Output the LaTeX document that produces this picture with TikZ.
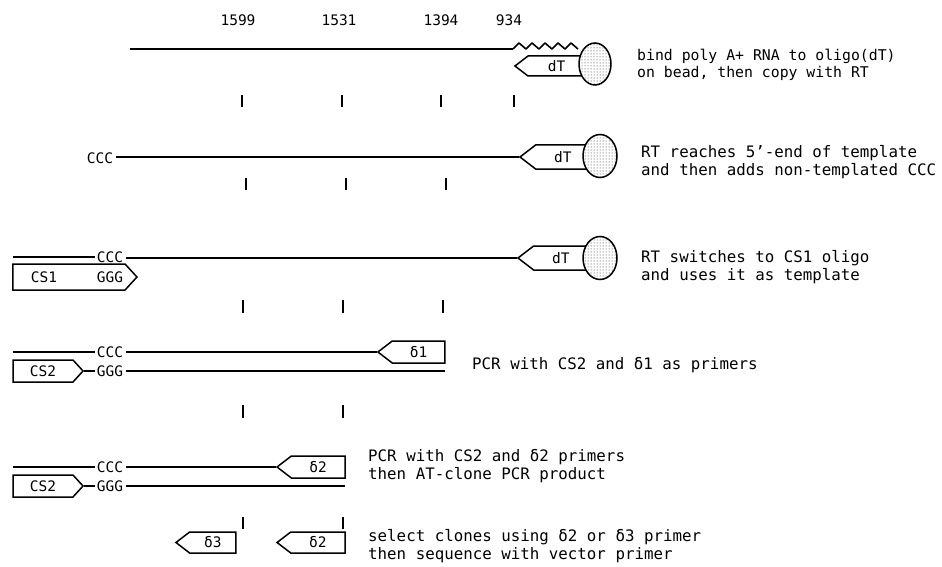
\documentclass[tikz,border=0pt]{standalone}
\usepackage{fontspec}
\setmainfont{DejaVu Sans Mono}
\usetikzlibrary{shapes.symbols,shapes.geometric,patterns}
\begin{document}
\begin{tikzpicture}[x=1pt,y=-1pt,
  dna/.style={line width=1.6pt},
  tick/.style={line width=1.4pt},
  primer/.style={signal, draw, line width=1.5pt, inner sep=0pt, fill=white,
     minimum height=22pt, font=\fontsize{14.5}{16}\selectfont},
  pleft/.style={primer, signal to=west, signal pointer angle=75},
  pright/.style={primer, signal to=east, signal pointer angle=95},
  bead/.style={ellipse, draw, line width=1.5pt, inner sep=0pt, preaction={fill=white},
     pattern=dots, pattern color=black!85},
  lab/.style={inner sep=0pt, font=\fontsize{14.5}{16}\selectfont},
  desc/.style={anchor=west, align=left, inner sep=0pt, font=\fontsize{15.8}{18.5}\selectfont},
  num/.style={inner sep=0pt, font=\fontsize{14.5}{16}\selectfont}]
\useasboundingbox (0,0) rectangle (942,567);

% ---- numbers
\node[num] (n1599) at (238,20) {1599};
\node[num] (n1531) at (339,20) {1531};
\node[num] (n1394) at (441,20) {1394};
\node[num] (n934)  at (509,20) {934};

% ---- row 1
\coordinate (r1s) at (130,49);
\coordinate (r1w) at (513,49);
\draw[dna] (r1s) -- (r1w);
\draw[dna, line join=round] (r1w) -- (519,43) -- (526,49) -- (532,43) -- (539,49) -- (545,43) -- (552,49) -- (558,43) -- (565,49) -- (571,43) -- (578,49);
\node[pleft, minimum width=70pt, minimum height=20pt] (dt1) at (556.5,66) {dT};
\node[bead, minimum width=32pt, minimum height=42pt] (bead1) at (595,64) {};
\node[desc, font=\fontsize{14.8}{17.5}\selectfont] (t1) at (637,65) {bind poly A+ RNA to oligo(dT)\\on bead, then copy with RT};
\foreach \x in {242,342,441,514} \draw[tick] (\x,95) -- (\x,107);

% ---- row 2
\node[lab] (ccc2) at (100,158) {CCC};
\node[pleft, minimum width=70pt, minimum height=24pt] (dt2) at (562.8,157) {dT};
\draw[dna] ([xshift=3pt]ccc2.east |- dt2.180) -- (dt2.180);
\node[bead, minimum width=34pt, minimum height=43pt] (bead2) at (600,156) {};
\node[desc] (t2) at (641,162) {RT reaches 5'-end of template\\and then adds non-templated CCC};
\foreach \x in {246,346,446} \draw[tick] (\x,178) -- (\x,190);

% ---- row 3
\node[lab] (ccc3) at (110,257) {CCC};
\coordinate (l3) at (13,257);
\draw[dna] (l3) -- ([xshift=-2pt]ccc3.west |- l3);
\node[pleft, minimum width=70pt, minimum height=24pt] (dt3) at (560.8,258) {dT};
\draw[dna] ([xshift=3pt]ccc3.east |- dt3.180) -- (dt3.180);
\node[bead, minimum width=34pt, minimum height=43pt] (bead3) at (600,258) {};
\node[pright, minimum width=124pt, minimum height=26pt] (cs1) at (69,277) {};
\node[lab] (cs1l) at (44,277) {CS1};
\node[lab] (ggg3) at (110,277) {GGG};
\node[desc] (t3) at (641,267) {RT switches to CS1 oligo\\and uses it as template};
\foreach \x in {243,343,443} \draw[tick] (\x,300) -- (\x,313);

% ---- row 4
\node[lab] (ccc4) at (110,352) {CCC};
\coordinate (l4) at (13,352);
\draw[dna] (l4) -- ([xshift=-2pt]ccc4.west |- l4);
\node[pleft, minimum width=67pt] (d1) at (418.6,352) {δ1};
\draw[dna] ([xshift=3pt]ccc4.east |- d1.180) -- (d1.180);
\node[pright, minimum width=70pt] (cs2a) at (43,371) {CS2};
\node[lab] (ggg4) at (110,371) {GGG};
\coordinate (e4) at (445,371);
\draw[dna] (cs2a.0) -- ([xshift=-2pt]ggg4.west |- cs2a.0);
\draw[dna] ([xshift=3pt]ggg4.east |- e4) -- (e4);
\node[desc] (t4) at (472,365) {PCR with CS2 and δ1 as primers};
\foreach \x in {243,343} \draw[tick] (\x,405) -- (\x,418);

% ---- row 5
\node[lab] (ccc5) at (110,467) {CCC};
\coordinate (l5) at (13,467);
\draw[dna] (l5) -- ([xshift=-2pt]ccc5.west |- l5);
\node[pleft, minimum width=68pt] (d2a) at (318.2,467) {δ2};
\draw[dna] ([xshift=3pt]ccc5.east |- d2a.180) -- (d2a.180);
\node[pright, minimum width=70pt] (cs2b) at (43,486) {CS2};
\node[lab] (ggg5) at (110,486) {GGG};
\coordinate (e5) at (345,486);
\draw[dna] (cs2b.0) -- ([xshift=-2pt]ggg5.west |- cs2b.0);
\draw[dna] ([xshift=3pt]ggg5.east |- e5) -- (e5);
\node[desc] (t5) at (368,466) {PCR with CS2 and δ2 primers\\then AT-clone PCR product};
\foreach \x in {243,343} \draw[tick] (\x,517) -- (\x,529);

% ---- row 6
\node[pleft, minimum width=60pt, minimum height=21pt] (d3) at (212.8,542.5) {δ3};
\node[pleft, minimum width=68pt, minimum height=21pt] (d2b) at (317.9,542.5) {δ2};
\node[desc] (t6) at (368,546) {select clones using δ2 or δ3 primer\\then sequence with vector primer};
\end{tikzpicture}
\end{document}
